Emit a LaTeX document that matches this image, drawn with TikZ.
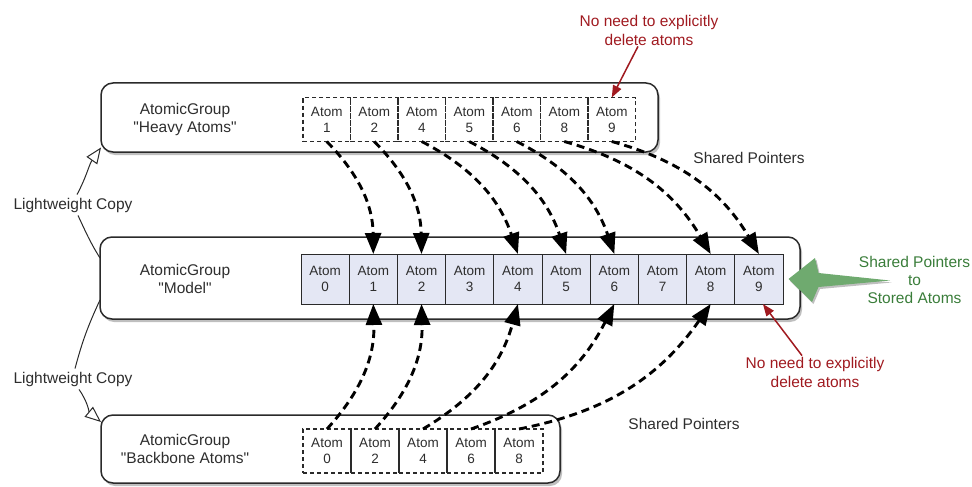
\documentclass[tikz,border=0pt]{standalone}
\usepackage{fontspec}
\setmainfont{Liberation Sans}
\newfontfamily\lsans{Liberation Sans}
\usetikzlibrary{arrows.meta,shadows,calc}

\definecolor{boxline}{HTML}{2A2A2A}
\definecolor{cellfill}{HTML}{E4E7F4}
\definecolor{darkred}{HTML}{A01A20}
\definecolor{arrowgreen}{HTML}{6FAA6F}
\definecolor{textgreen}{HTML}{3A7D3A}
\definecolor{labelgray}{HTML}{2E2E2E}

\tikzset{
  bigbox/.style={draw=boxline, line width=1.5pt, rounded corners=12pt, fill=white,
    drop shadow={shadow xshift=2pt, shadow yshift=-3pt, opacity=0.25, fill=black},
    inner sep=0pt, outer sep=0pt},
  cellbase/.style={inner sep=0pt, outer sep=0pt, align=center,
    font=\lsans\fontsize{13.5}{16}\selectfont, text=labelgray},
  solidcell/.style={cellbase, draw=boxline, line width=1pt, fill=cellfill,
    minimum width=48.2pt, minimum height=50pt},
  dashcell/.style={cellbase, draw=boxline, line width=1.2pt, dash pattern=on 4pt off 3pt,
    minimum height=44pt},
  grouplabel/.style={align=center, font=\lsans\fontsize{15.5}{18}\selectfont, text=labelgray},
  redlabel/.style={align=center, font=\lsans\fontsize{15.5}{19}\selectfont, text=darkred, inner sep=1pt},
  greenlabel/.style={align=center, font=\lsans\fontsize{15.5}{18}\selectfont, text=textgreen},
  ptr/.style={line width=2.9pt, dash pattern=on 8pt off 5pt, draw=black,
    -{Triangle[length=21pt,width=16pt]}},
  redarrow/.style={draw=darkred, line width=1.5pt, -{Triangle[length=12pt,width=9pt]}},
  copyline/.style={draw=boxline, line width=1pt},
  copyarrow/.style={copyline, -{Triangle[open, length=16pt, width=13pt, fill=white]}},
}

\begin{document}
\begin{tikzpicture}[x=1pt,y=1pt]
\useasboundingbox (0,0) rectangle (972,-487);

% group boxes
\node[bigbox, minimum width=557pt, minimum height=69pt] (heavy) at (379.5,-117.5) {};
\node[bigbox, minimum width=700pt, minimum height=82pt] (model) at (450,-278) {};
\node[bigbox, minimum width=459pt, minimum height=68pt] (backbone) at (330.5,-449) {};

% group labels
\node[grouplabel] (hlabel) at (185,-119) {AtomicGroup\\"Heavy Atoms"};
\node[grouplabel] (mlabel) at (185,-279) {AtomicGroup\\"Model"};
\node[grouplabel] (blabel) at (185,-449) {AtomicGroup\\"Backbone Atoms"};

% cells
\foreach \n [count=\i from 0] in {1,2,4,5,6,8,9}
  \node[dashcell, minimum width=47.5pt] (h\n) at (303+23.75+47.5*\i,-119.5) {Atom\\\n};
\foreach \n in {0,...,9}
  \node[solidcell] (m\n) at (301+24.1+48.2*\n,-279) {Atom\\\n};
\foreach \n [count=\i from 0] in {0,2,4,6,8}
  \node[dashcell, minimum width=48pt] (b\n) at (303+24+48*\i,-451) {Atom\\\n};

% shared pointers
\foreach \n in {1,2,4,5,6,8,9}
  \draw[ptr] (h\n.south) to[bend left=22] (m\n.north);
\foreach \a/\b in {0/1,2/2,4/4,6/6,8/8}
  \draw[ptr] (b\a.north) to[bend right=22] (m\b.south);

\node[grouplabel] (sp1) at (749,-158) {Shared Pointers};
\node[grouplabel] (sp2) at (684,-424) {Shared Pointers};

% lightweight copies
\node[grouplabel, fill=white, inner sep=3pt] (lw1) at (73,-205) {Lightweight Copy};
\node[grouplabel, fill=white, inner sep=3pt] (lw2) at (73,-379) {Lightweight Copy};
\draw[copyline] ([yshift=20pt]model.west) to[out=122,in=-65] ([xshift=5pt]lw1.south);
\draw[copyarrow] ([xshift=4pt]lw1.north) to[out=62,in=-125] ([yshift=-30pt]heavy.west);
\draw[copyline] ([yshift=-22pt]model.west) to[out=-115,in=75] ([xshift=2pt]lw2.north);
\draw[copyarrow] ([xshift=6pt]lw2.south) to[out=-55,in=140] ([yshift=27pt]backbone.west);

% red notes
\node[redlabel] (note1) at (649,-30) {No need to explicitly\\delete atoms};
\draw[redarrow] ([xshift=-11pt]note1.south) -- (h9.north);
\node[redlabel] (note2) at (815,-372) {No need to explicitly\\delete atoms};
\draw[redarrow] ([xshift=-13pt]note2.north) -- ([xshift=4pt]m9.south);

% green arrow and note
\coordinate (gtip) at (788.5,-279);
\fill[arrowgreen, drop shadow={shadow xshift=1.5pt, shadow yshift=-2pt, opacity=0.25, fill=black}]
  (gtip) -- (815,-258) -- (818.5,-273) -- (890,-280.5) -- (818.5,-287) -- (812,-302) -- cycle;
\node[greenlabel] (gnote) at (914.5,-280) {Shared Pointers\\to\\Stored Atoms};
\end{tikzpicture}
\end{document}
